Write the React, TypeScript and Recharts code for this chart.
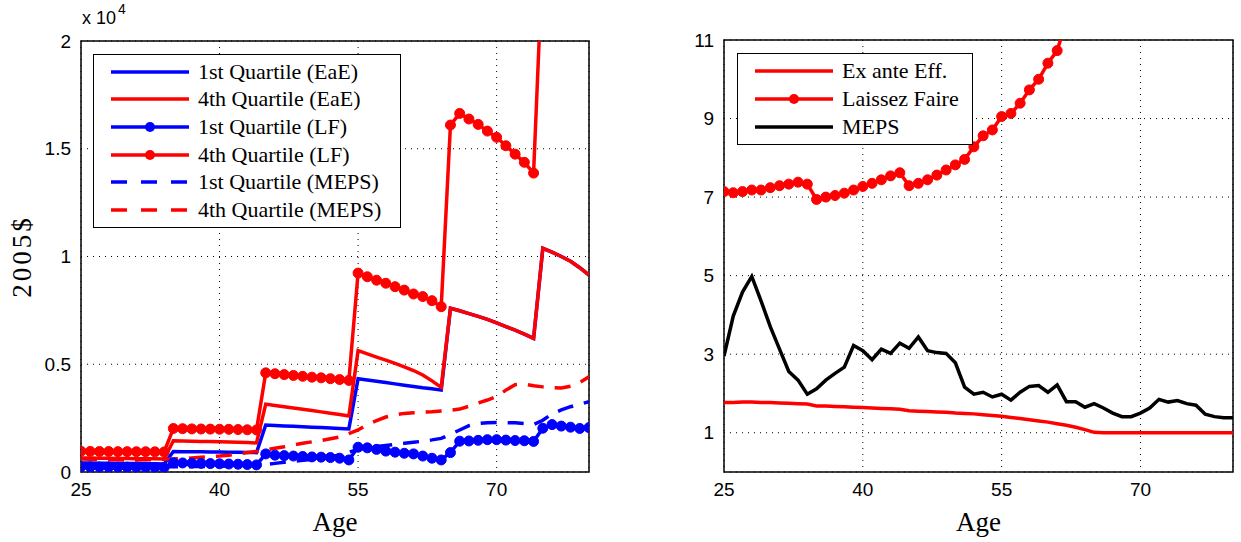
import React from "react";
import { LineChart, Line, XAxis, YAxis, CartesianGrid, ReferenceArea, Legend } from "recharts";

const SERIF = "'Liberation Serif', serif";
const SANS = "'Liberation Sans', Arial, sans-serif";
const RED = "#ff0000";
const BLUE = "#0000ff";

// ages 25..80, one point per year
const AGES = [
  25, 26, 27, 28, 29, 30, 31, 32, 33, 34,
  35, 36, 37, 38, 39, 40, 41, 42, 43, 44,
  45, 46, 47, 48, 49, 50, 51, 52, 53, 54,
  55, 56, 57, 58, 59, 60, 61, 62, 63, 64,
  65, 66, 67, 68, 69, 70, 71, 72, 73, 74,
  75, 76, 77, 78, 79, 80,
];

// left panel, 2005$
const Q1_EAE = [
  420, 415, 410, 405, 400, 395, 390, 385, 380, 375,
  950, 945, 940, 935, 930, 925, 920, 915, 910, 900,
  2180, 2160, 2140, 2120, 2100, 2080, 2060, 2040, 2020, 2000,
  4330, 4270, 4210, 4150, 4090, 4030, 3970, 3910, 3860, 3800,
  7600, 7480, 7350, 7220, 7080, 6920, 6750, 6580, 6400, 6200,
  10380, 10200, 10000, 9780, 9480, 9140,
];
const Q4_EAE = [
  650, 645, 640, 635, 630, 625, 620, 615, 610, 600,
  1450, 1440, 1430, 1420, 1410, 1400, 1390, 1380, 1365, 1350,
  3150, 3090, 3030, 2970, 2910, 2850, 2790, 2730, 2670, 2600,
  5630, 5480, 5330, 5190, 5040, 4880, 4710, 4500, 4230, 3930,
  7600, 7480, 7350, 7220, 7080, 6920, 6750, 6580, 6400, 6200,
  10380, 10200, 10000, 9780, 9480, 9140,
];
const Q1_LF = [
  240, 235, 230, 230, 225, 225, 220, 220, 215, 210,
  430, 420, 410, 400, 390, 380, 370, 360, 345, 330,
  840, 780, 760, 740, 720, 700, 690, 670, 640, 560,
  1150, 1120, 1050, 970, 920, 870, 840, 740, 640, 560,
  900, 1430, 1440, 1470, 1500, 1500, 1480, 1460, 1450, 1420,
  2030, 2200, 2130, 2080, 2020, 2060,
];
const Q4_LF = [
  960, 955, 950, 950, 945, 945, 940, 940, 935, 930,
  2020, 2010, 2000, 1995, 1990, 1985, 1980, 1970, 1960, 1950,
  4600, 4560, 4520, 4480, 4440, 4400, 4370, 4330, 4290, 4250,
  9230, 9060, 8900, 8760, 8600, 8440, 8260, 8140, 7950, 7670,
  16100, 16640, 16380, 16130, 15820, 15530, 15140, 14750, 14370, 13870,
  24100, 24600, 25100, 25600, 26100, 26600,
];
const Q1_MEPS = [
  260, 255, 250, 250, 245, 245, 240, 240, 240, 240,
  240, 245, 250, 255, 260, 270, 280, 290, 300, 320,
  350, 400, 450, 500, 540, 580, 630, 700, 800, 920,
  1050, 1120, 1180, 1230, 1280, 1330, 1380, 1430, 1490, 1560,
  1750, 1950, 2150, 2250, 2290, 2300, 2290, 2280, 2250, 2200,
  2400, 2700, 2880, 3030, 3150, 3260,
];
const Q4_MEPS = [
  600, 590, 580, 570, 565, 560, 560, 565, 575, 590,
  600, 620, 650, 680, 710, 740, 780, 830, 900, 950,
  1020, 1100, 1170, 1250, 1330, 1400, 1460, 1540, 1620, 1780,
  1950, 2200, 2380, 2550, 2650, 2720, 2750, 2780, 2800, 2830,
  2860, 2920, 3050, 3200, 3340, 3500, 3800, 4050, 4080, 4000,
  3950, 3920, 3900, 3980, 4150, 4420,
];

// right panel, ratios
const EX_ANTE = [
  1.77, 1.77, 1.78, 1.78, 1.77, 1.77, 1.76, 1.75, 1.74, 1.73,
  1.68, 1.68, 1.67, 1.66, 1.65, 1.64, 1.63, 1.62, 1.61, 1.6,
  1.56, 1.55, 1.54, 1.53, 1.52, 1.5, 1.49, 1.48, 1.46, 1.44,
  1.42, 1.39, 1.36, 1.33, 1.3, 1.27, 1.23, 1.19, 1.14, 1.08,
  1.01, 1.0, 1.0, 1.0, 1.0, 1.0, 1.0, 1.0, 1.0, 1.0,
  1.0, 1.0, 1.0, 1.0, 1.0, 1.0,
];
const LAISSEZ = [
  7.14, 7.11, 7.14, 7.18, 7.18, 7.24, 7.29, 7.33, 7.38, 7.33,
  6.94, 7.0, 7.04, 7.1, 7.18, 7.27, 7.35, 7.44, 7.54, 7.62,
  7.29, 7.35, 7.44, 7.56, 7.69, 7.82, 7.96, 8.28, 8.56, 8.71,
  9.05, 9.13, 9.39, 9.73, 10.0, 10.41, 10.73, 11.5, 12.3, 13.2,
  14.2, 15.3, 16.5, 17.8, 19.2, 20.7, 22.3, 24.0, 25.8, 27.7,
  29.8, 32.0, 34.4, 37.0, 39.8, 42.8,
];
const MEPS = [
  2.95, 3.97, 4.58, 4.98, 4.36, 3.7, 3.13, 2.56, 2.34, 1.98,
  2.12, 2.34, 2.51, 2.67, 3.22, 3.09, 2.86, 3.13, 3.02, 3.28,
  3.15, 3.44, 3.09, 3.04, 3.02, 2.78, 2.16, 1.98, 2.03, 1.91,
  1.98, 1.83, 2.03, 2.18, 2.2, 2.03, 2.22, 1.79, 1.79, 1.65,
  1.74, 1.63, 1.5, 1.41, 1.41, 1.5, 1.63, 1.85, 1.78, 1.82,
  1.74, 1.7, 1.47, 1.41, 1.38, 1.38,
];

const X_TICKS = [25, 40, 55, 70];
const LEFT_Y_TICKS = [0, 5000, 10000, 15000, 20000];
const RIGHT_Y_TICKS = [1, 3, 5, 7, 9, 11];

const leftData = AGES.map((age, i) => ({
  age,
  q1EaE: Q1_EAE[i],
  q4EaE: Q4_EAE[i],
  q1LF: Q1_LF[i],
  q4LF: Q4_LF[i],
  q1MEPS: Q1_MEPS[i],
  q4MEPS: Q4_MEPS[i],
}));

const rightData = AGES.map((age, i) => ({
  age,
  exAnte: EX_ANTE[i],
  laissez: LAISSEZ[i],
  meps: MEPS[i],
}));

interface LegendItem {
  label: string;
  color: string;
  dot?: boolean;
  dash?: boolean;
}

const LEFT_LEGEND: LegendItem[] = [
  { label: "1st Quartile (EaE)", color: BLUE },
  { label: "4th Quartile (EaE)", color: RED },
  { label: "1st Quartile (LF)", color: BLUE, dot: true },
  { label: "4th Quartile (LF)", color: RED, dot: true },
  { label: "1st Quartile (MEPS)", color: BLUE, dash: true },
  { label: "4th Quartile (MEPS)", color: RED, dash: true },
];

const RIGHT_LEGEND: LegendItem[] = [
  { label: "Ex ante Eff.", color: RED },
  { label: "Laissez Faire", color: RED, dot: true },
  { label: "MEPS", color: "#000" },
];

const LegendBox = ({ items, width, rowH }: { items: LegendItem[]; width: number; rowH: number }) => (
  <div
    style={{
      border: "1.5px solid #000",
      background: "#fff",
      width,
      boxSizing: "border-box",
      padding: "3px 0 3px 0",
    }}
  >
    {items.map((it) => (
      <div key={it.label} style={{ display: "flex", alignItems: "center", height: rowH }}>
        <svg width={78} height={12} style={{ marginLeft: 17, marginRight: 9, flex: "none" }}>
          <line
            x1={0}
            x2={78}
            y1={6}
            y2={6}
            stroke={it.color}
            strokeWidth={3.5}
            strokeDasharray={it.dash ? "16 14" : undefined}
          />
          {it.dot && <circle cx={39} cy={6} r={5} fill={it.color} />}
        </svg>
        <span style={{ fontFamily: SERIF, fontSize: 22, lineHeight: 1, whiteSpace: "nowrap", color: "#000" }}>
          {it.label}
        </span>
      </div>
    ))}
  </div>
);

const tickStyle = { fill: "#000", fontSize: 19, fontFamily: SANS };

const AgeLabel = (props: any) => {
  const { x, y, width } = props.viewBox;
  return (
    <text x={x + width / 2} y={y + 50} textAnchor="middle" dominantBaseline="central" fontFamily={SERIF} fontSize={27} fill="#000">
      Age
    </text>
  );
};

const DollarLabel = (props: any) => {
  const { y, height } = props.viewBox;
  const cx = 22;
  const cy = y + height / 2;
  return (
    <text
      x={cx}
      y={cy}
      transform={`rotate(-90 ${cx} ${cy})`}
      textAnchor="middle"
      dominantBaseline="central"
      fontFamily={SERIF}
      fontSize={27}
      letterSpacing={3}
      fill="#000"
    >
      2005$
    </text>
  );
};

function LeftPanel() {
  return (
    <div style={{ position: "absolute", left: 0, top: 0 }}>
      <LineChart width={620} height={542} data={leftData} margin={{ top: 41, right: 31, bottom: 0, left: 0 }}>
        <CartesianGrid stroke="#000" strokeDasharray="1 5" />
        <XAxis
          dataKey="age"
          type="number"
          domain={[25, 80]}
          ticks={X_TICKS}
          allowDataOverflow
          axisLine={false}
          tickLine={false}
          tickSize={0}
          tickMargin={11}
          height={70}
          tick={tickStyle}
          label={{ content: AgeLabel }}
        />
        <YAxis
          type="number"
          domain={[0, 20000]}
          ticks={LEFT_Y_TICKS}
          allowDataOverflow
          axisLine={false}
          tickLine={false}
          tickSize={0}
          tickMargin={10}
          width={81}
          tick={tickStyle}
          tickFormatter={(v: number) => String(v / 10000)}
          label={{ content: DollarLabel }}
        />
        <ReferenceArea x1={25} x2={80} y1={0} y2={20000} fill="none" stroke="#000" strokeWidth={1.5} />
        <Line dataKey="q1EaE" stroke={BLUE} strokeWidth={3.5} dot={false} activeDot={false} isAnimationActive={false} />
        <Line dataKey="q4EaE" stroke={RED} strokeWidth={3.5} dot={false} activeDot={false} isAnimationActive={false} />
        <Line
          dataKey="q1LF"
          stroke={BLUE}
          strokeWidth={3.5}
          dot={{ r: 5, fill: BLUE, stroke: BLUE, strokeWidth: 1 }}
          activeDot={false}
          isAnimationActive={false}
        />
        <Line
          dataKey="q4LF"
          stroke={RED}
          strokeWidth={3.5}
          dot={{ r: 5, fill: RED, stroke: RED, strokeWidth: 1 }}
          activeDot={false}
          isAnimationActive={false}
        />
        <Line dataKey="q1MEPS" stroke={BLUE} strokeWidth={3.5} strokeDasharray="16 11" dot={false} activeDot={false} isAnimationActive={false} />
        <Line dataKey="q4MEPS" stroke={RED} strokeWidth={3.5} strokeDasharray="16 11" dot={false} activeDot={false} isAnimationActive={false} />
        <Legend
          layout="vertical"
          align="center"
          verticalAlign="middle"
          wrapperStyle={{ left: 93, top: 54, width: 308 }}
          content={() => <LegendBox items={LEFT_LEGEND} width={308} rowH={27.6} />}
        />
      </LineChart>
      <div style={{ position: "absolute", left: 82, top: 8, fontFamily: SANS, fontSize: 18, color: "#000", whiteSpace: "nowrap" }}>
        x 10<span style={{ fontSize: 14, position: "relative", top: -10, marginLeft: 2 }}>4</span>
      </div>
    </div>
  );
}

function RightPanel() {
  return (
    <div style={{ position: "absolute", left: 620, top: 0 }}>
      <LineChart width={621} height={542} data={rightData} margin={{ top: 40, right: 8, bottom: 0, left: 0 }}>
        <CartesianGrid stroke="#000" strokeDasharray="1 5" />
        <XAxis
          dataKey="age"
          type="number"
          domain={[25, 80]}
          ticks={X_TICKS}
          allowDataOverflow
          axisLine={false}
          tickLine={false}
          tickSize={0}
          tickMargin={11}
          height={70}
          tick={tickStyle}
          label={{ content: AgeLabel }}
        />
        <YAxis
          type="number"
          domain={[0, 11]}
          ticks={RIGHT_Y_TICKS}
          allowDataOverflow
          axisLine={false}
          tickLine={false}
          tickSize={0}
          tickMargin={10}
          width={104}
          tick={tickStyle}
        />
        <ReferenceArea x1={25} x2={80} y1={0} y2={11} fill="none" stroke="#000" strokeWidth={1.5} />
        <Line dataKey="exAnte" stroke={RED} strokeWidth={3.5} dot={false} activeDot={false} isAnimationActive={false} />
        <Line
          dataKey="laissez"
          stroke={RED}
          strokeWidth={3.5}
          dot={{ r: 5, fill: RED, stroke: RED, strokeWidth: 1 }}
          activeDot={false}
          isAnimationActive={false}
        />
        <Line dataKey="meps" stroke="#000" strokeWidth={3.5} dot={false} activeDot={false} isAnimationActive={false} />
        <Legend
          layout="vertical"
          align="center"
          verticalAlign="middle"
          wrapperStyle={{ left: 117, top: 53, width: 236 }}
          content={() => <LegendBox items={RIGHT_LEGEND} width={236} rowH={28} />}
        />
      </LineChart>
    </div>
  );
}

export default function App() {
  return (
    <div style={{ position: "absolute", left: 0, top: 0, width: 1241, height: 542, background: "#fff", overflow: "hidden" }}>
      <LeftPanel />
      <RightPanel />
    </div>
  );
}
